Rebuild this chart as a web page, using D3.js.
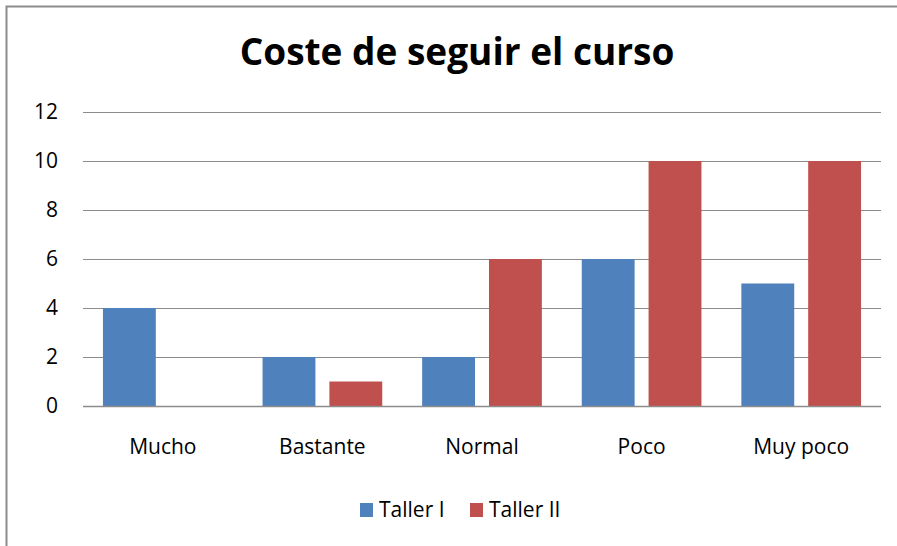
<!DOCTYPE html>
<html>
<head>
<meta charset="utf-8">
<script src="https://cdn.jsdelivr.net/npm/d3@7"></script>
<style>
  body { margin: 0; background: #fff; }
  svg { display: block; font-family: "Open Sans", sans-serif; }
</style>
</head>
<body>
<svg width="897" height="546"></svg>
<script>
// chart data
const categories = ["Mucho", "Bastante", "Normal", "Poco", "Muy poco"];
const seriesNames = ["Taller I", "Taller II"];
const tallerI = [4, 2, 2, 6, 5];
const tallerII = [0, 1, 6, 10, 10];
const yTicks = [0, 2, 4, 6, 8, 10, 12];

const svg = d3.select("svg"),
      width = +svg.attr("width"),
      height = +svg.attr("height");

const colors = d3.scaleOrdinal().domain(seriesNames).range(["#4F81BD", "#C0504D"]);

// outer frame
svg.append("rect")
  .attr("x", 6.5).attr("y", 6.5)
  .attr("width", width).attr("height", height)
  .attr("fill", "#fff")
  .attr("stroke", "#8c8c8c")
  .attr("stroke-width", 2);

const plot = { left: 83, right: 881, top: 112, bottom: 406 };

const x = d3.scaleBand()
  .domain(categories)
  .range([plot.left, plot.right])
  .paddingInner(0).paddingOuter(0);

const y = d3.scaleLinear().domain([0, 12]).range([plot.bottom, plot.top]);

// bars within a category: 20 pad, 53 bar, 14 gap, 53 bar, 20 pad
const bw = x.bandwidth();
const sub = d3.scaleBand().domain(seriesNames)
  .range([bw * 20 / 160, bw * 140 / 160])
  .paddingInner(14 / 67);

// gridlines
svg.append("g")
  .selectAll("line")
  .data(yTicks.filter(d => d > 0))
  .join("line")
  .attr("x1", plot.left).attr("x2", plot.right)
  .attr("y1", d => Math.round(y(d)) + 0.5)
  .attr("y2", d => Math.round(y(d)) + 0.5)
  .attr("stroke", "#8c8c8c")
  .attr("stroke-width", 1);

// y labels
svg.append("g")
  .selectAll("text")
  .data(yTicks)
  .join("text")
  .attr("x", 58)
  .attr("y", d => y(d))
  .attr("dy", "0.35em")
  .attr("text-anchor", "end")
  .attr("font-size", 21)
  .attr("fill", "#000")
  .text(d => d);

// bars
const data = [];
categories.forEach((c, i) => {
  data.push({ cat: c, series: "Taller I", value: tallerI[i] });
  data.push({ cat: c, series: "Taller II", value: tallerII[i] });
});

svg.append("g")
  .selectAll("rect")
  .data(data)
  .join("rect")
  .attr("x", d => x(d.cat) + sub(d.series))
  .attr("width", sub.bandwidth())
  .attr("y", d => y(d.value))
  .attr("height", d => y(0) - y(d.value))
  .attr("fill", d => colors(d.series));

// baseline
svg.append("line")
  .attr("x1", plot.left).attr("x2", plot.right)
  .attr("y1", Math.round(y(0)) + 0.5).attr("y2", Math.round(y(0)) + 0.5)
  .attr("stroke", "#8c8c8c")
  .attr("stroke-width", 1.5);

// category labels
svg.append("g")
  .selectAll("text")
  .data(categories)
  .join("text")
  .attr("x", d => x(d) + bw / 2)
  .attr("y", 447)
  .attr("dy", "0.35em")
  .attr("text-anchor", "middle")
  .attr("font-size", 21)
  .text(d => d);

// title
svg.append("text")
  .attr("x", 457)
  .attr("y", 52)
  .attr("dy", "0.35em")
  .attr("text-anchor", "middle")
  .attr("font-size", 37)
  .attr("font-weight", "bold")
  .text("Coste de seguir el curso");

// legend
const legendX = [360, 470];
const lg = svg.append("g")
  .selectAll("g")
  .data(seriesNames)
  .join("g")
  .attr("transform", (d, i) => `translate(${legendX[i]},510)`);

lg.append("rect")
  .attr("x", 0).attr("y", -7)
  .attr("width", 13).attr("height", 14)
  .attr("fill", d => colors(d));

lg.append("text")
  .attr("x", 19)
  .attr("dy", "0.35em")
  .attr("font-size", 21)
  .text(d => d);
</script>
</body>
</html>
